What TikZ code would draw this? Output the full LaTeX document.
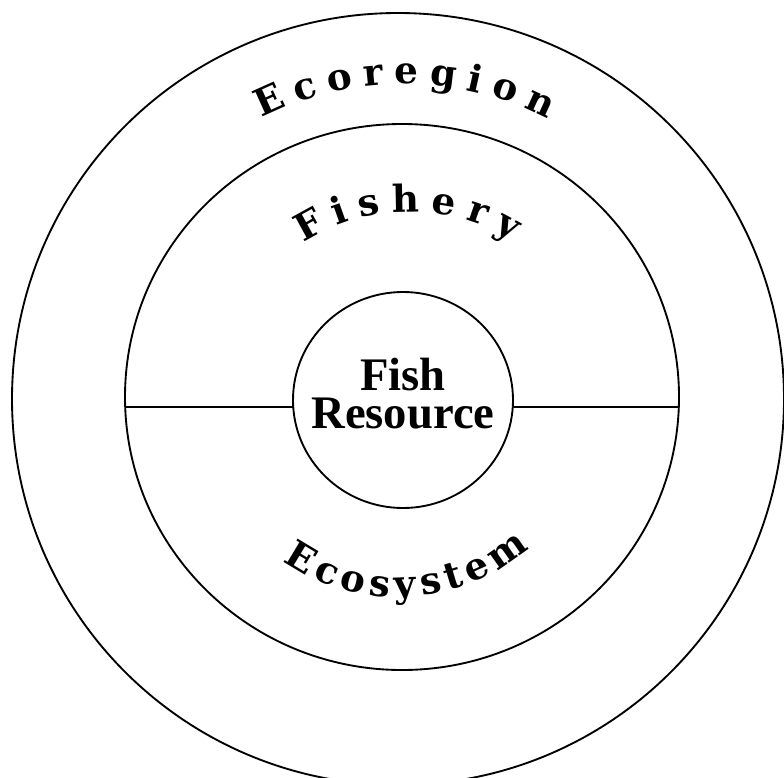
\documentclass[tikz,border=0pt]{standalone}
\usepackage{fontspec}
\usetikzlibrary{decorations.text}
\newfontfamily\arcfont{DejaVu Serif}
\newfontfamily\fishfont{Liberation Serif}
\newcommand\ecofont{\arcfont\bfseries\fontsize{28}{32}\selectfont}
\begin{document}
\begin{tikzpicture}[x=0.75pt,y=-0.75pt,
  ring/.style={draw=black,line width=1.4pt},
  divider/.style={draw=black,line width=1.1pt},
  arctext/.style={decorate,decoration={text along path,text={|\ecofont|#1},text align=fit to path}},
  centretext/.style={font=\fishfont\bfseries\fontsize{35}{28.5}\selectfont,align=center,inner sep=0pt}]
\useasboundingbox (0,0) rectangle (784,777);
% rings
\draw[ring] (398,399) circle [x radius=386,y radius=386];
\draw[ring] (402,397) circle [x radius=277,y radius=273];
\draw[ring] (403,400) circle [x radius=110,y radius=108];
% divider lines
\coordinate (midL) at (125,407);
\coordinate (inL) at (293,407);
\coordinate (inR) at (513,407);
\coordinate (midR) at (679,407);
\draw[divider] (midL) -- (inL);
\draw[divider] (inR) -- (midR);
% centre text
\node[centretext] (fish) at (403,394) {Fish\\Resource};
% curved labels
\path[arctext=Ecoregion] ({404+316*cos(-116.8)},{400+316*sin(-116.8)}) arc[start angle=-116.8,end angle=-62.8,radius=316];
\path[arctext=Fishery] ({410+198*cos(-122.6)},{410+198*sin(-122.6)}) arc[start angle=-122.6,end angle=-58.7,radius=198];
\path[arctext=Ecosystem] ({398+201*cos(125)},{396+201*sin(125)}) arc[start angle=125,end angle=49.3,radius=201];
\end{tikzpicture}
\end{document}
